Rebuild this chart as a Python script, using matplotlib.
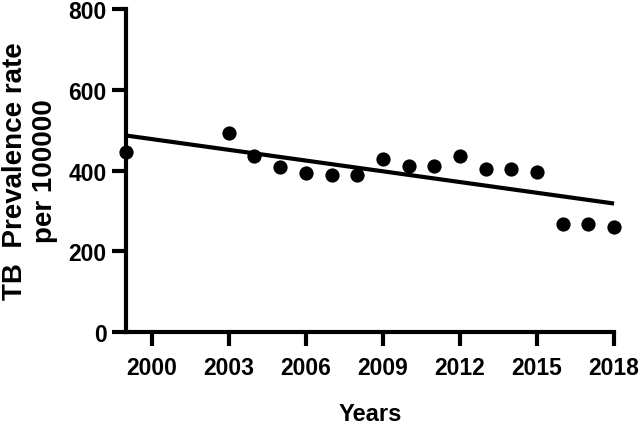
import numpy as np
import matplotlib
matplotlib.use("Agg")
import matplotlib.pyplot as plt

# Data
years = [1999, 2003, 2004, 2005, 2006, 2007, 2008, 2009, 2010,
         2011, 2012, 2013, 2014, 2015, 2016, 2017, 2018]
prevalence = [445, 492, 437, 408, 393, 390, 390, 428, 412,
              412, 435, 403, 405, 397, 268, 268, 260]
xticks = [2000, 2003, 2006, 2009, 2012, 2015, 2018]
yticks = [0, 200, 400, 600, 800]

plt.rcParams['font.family'] = ['Liberation Sans', 'DejaVu Sans']
plt.rcParams['font.weight'] = 'bold'

fig = plt.figure(figsize=(6.41, 4.27), dpi=100)
ax = fig.add_axes([0.1966, 0.22, 0.958 - 0.1966, 0.9766 - 0.22])

x = np.array(years, dtype=float)
y = np.array(prevalence, dtype=float)

# linear regression line
slope, intercept = np.polyfit(x, y, 1)
xl = np.array([1999, 2018])
ax.plot(xl, slope * xl + intercept, color='black', lw=3, solid_capstyle='butt', clip_on=False)

ax.scatter(x, y, s=105, color='black', zorder=3, clip_on=False, linewidths=0)

ax.set_xlim(1999, 2018)
ax.set_ylim(0, 800)
ax.set_xticks(xticks)
ax.set_yticks(yticks)

for s in ['top', 'right']:
    ax.spines[s].set_visible(False)
for s in ['left', 'bottom']:
    ax.spines[s].set_linewidth(3)
    ax.spines[s].set_capstyle('projecting')

ax.tick_params(axis='both', width=3, length=10, labelsize=16.5)
ax.tick_params(axis='x', pad=7)
ax.tick_params(axis='y', pad=4)
for lab in ax.get_xticklabels() + ax.get_yticklabels():
    lab.set_fontweight('bold')

ax.set_xlabel('Years', fontsize=17, fontweight='bold', labelpad=17)
ax.set_ylabel('TB  Prevalence rate\nper 100000', fontsize=20, fontweight='bold',
              linespacing=1.2)
ax.yaxis.set_label_coords(-0.139, 0.5)

fig.savefig('out.png', dpi=100)
